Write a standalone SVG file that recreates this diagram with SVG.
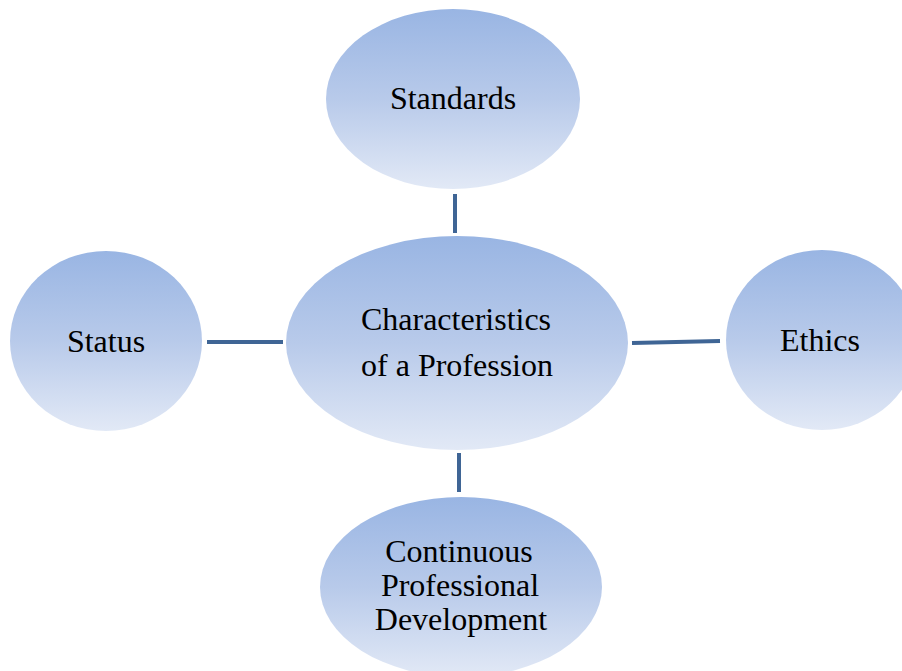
<svg xmlns="http://www.w3.org/2000/svg" width="902" height="671" viewBox="0 0 902 671">
<defs>
<linearGradient id="g" x1="0" y1="0" x2="0" y2="1">
<stop offset="0" stop-color="#99B5E3"/>
<stop offset="0.5" stop-color="#B8CAEA"/>
<stop offset="1" stop-color="#E2E9F6"/>
</linearGradient>
<style>
.n{fill:url(#g);}
.t{font-family:"Liberation Serif","Times New Roman",serif;font-size:32px;fill:#000;text-anchor:middle;}
.c{stroke:#3F6595;stroke-width:4;fill:none;}
</style>
</defs>
<rect width="902" height="671" fill="#fff"/>
<g id="connectors">
<line class="c" x1="455" y1="194" x2="455" y2="233"/>
<line class="c" x1="459" y1="453" x2="459" y2="492"/>
<line class="c" x1="207" y1="342" x2="283" y2="342"/>
<line class="c" x1="632" y1="343" x2="720" y2="341"/>
</g>
<g id="standards">
<ellipse class="n" cx="453" cy="99" rx="127" ry="90"/>
<text class="t" x="453" y="109">Standards</text>
</g>
<g id="center">
<ellipse class="n" cx="457" cy="343" rx="171" ry="107"/>
<text class="t" x="456" y="330">Characteristics</text>
<text class="t" x="457" y="376">of a Profession</text>
</g>
<g id="status">
<ellipse class="n" cx="106" cy="341" rx="96" ry="90"/>
<text class="t" x="106" y="352">Status</text>
</g>
<g id="ethics">
<ellipse class="n" cx="822" cy="340" rx="96" ry="90"/>
<text class="t" x="820" y="351">Ethics</text>
</g>
<g id="cpd">
<ellipse class="n" cx="461" cy="587" rx="141" ry="90"/>
<text class="t" x="459" y="562">Continuous</text>
<text class="t" x="460" y="596">Professional</text>
<text class="t" x="461" y="630">Development</text>
</g>
</svg>
